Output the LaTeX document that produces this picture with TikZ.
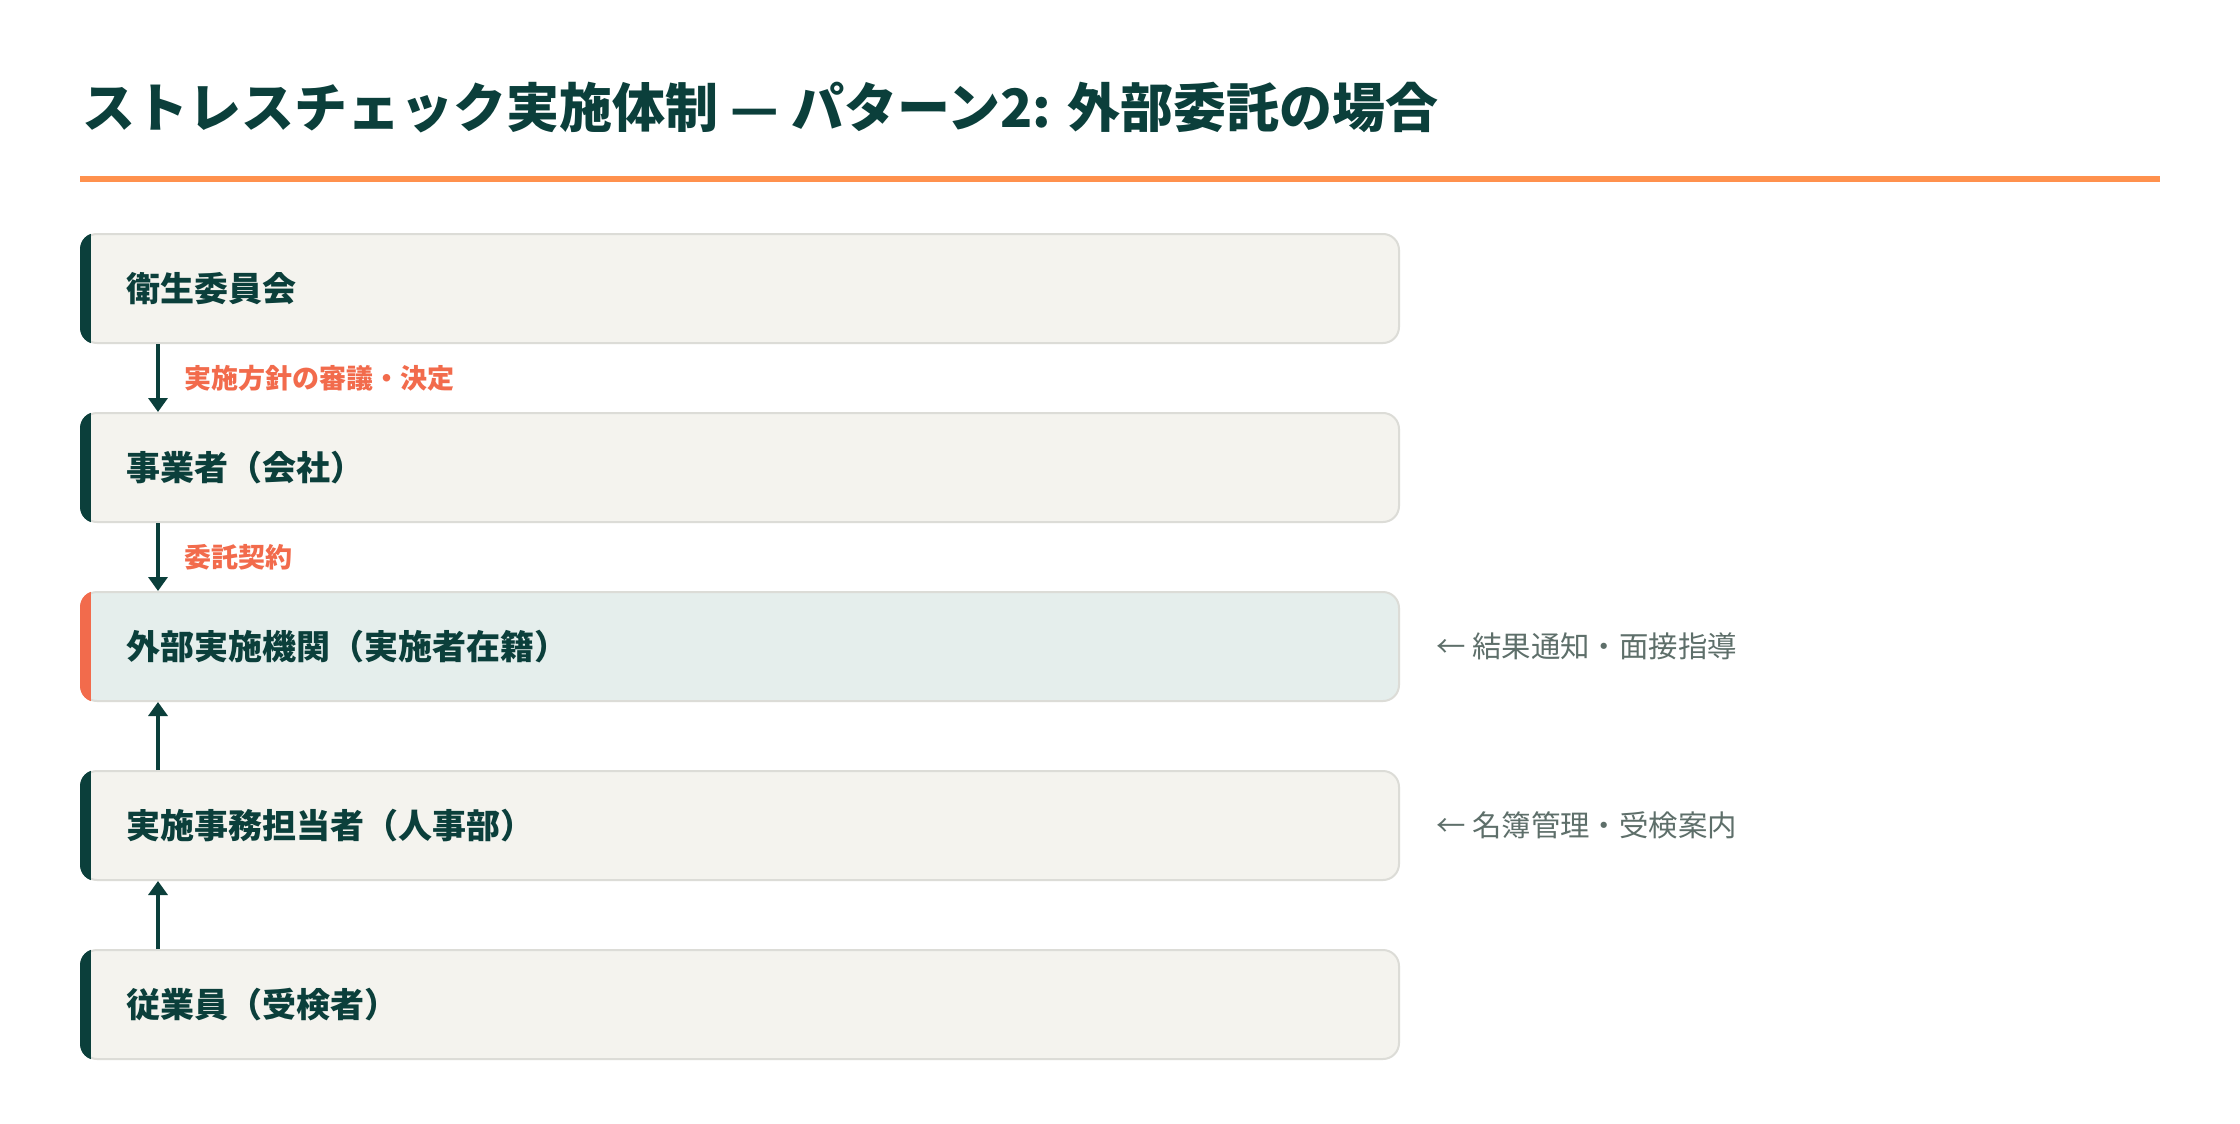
\documentclass[tikz,border=0pt]{standalone}
\usepackage{fontspec}
\setmainfont{Noto Sans CJK JP}
\IfFontExistsTF{Noto Sans CJK JP Black}
  {\newfontfamily\titlefont{Noto Sans CJK JP Black}}
  {\newfontfamily\titlefont{Noto Sans CJK JP}[UprightFont=* Bold]}
\usetikzlibrary{arrows.meta}
\definecolor{dark}{HTML}{0B3F3B}
\definecolor{lineorange}{HTML}{FF914D}
\definecolor{coral}{HTML}{F26B4C}
\definecolor{boxfill}{HTML}{F4F3EE}
\definecolor{hifill}{HTML}{E5EEEC}
\definecolor{boxborder}{HTML}{DCDCD7}
\definecolor{annogray}{HTML}{5E6F6A}
\tikzset{
  stagebox/.style={rectangle, rounded corners=8pt, draw=boxborder, line width=1pt,
    fill=boxfill, minimum width=659pt, minimum height=54.5pt, inner sep=0pt},
  hibox/.style={stagebox, fill=hifill},
  boxtext/.style={anchor=west, inner sep=0pt, text=dark, font=\bfseries\fontsize{17pt}{20pt}\selectfont},
  flowlabel/.style={anchor=west, inner sep=0pt, text=coral, font=\bfseries\fontsize{13.5pt}{16pt}\selectfont},
  annot/.style={anchor=west, inner sep=0pt, text=annogray, font=\fontsize{14.7pt}{18pt}\selectfont},
  flowarrow/.style={draw=dark, line width=1.7pt, -{Triangle[width=9.5pt, length=7pt]}},
}
\begin{document}
\begin{tikzpicture}[x=0.5pt, y=-0.5pt]
\useasboundingbox (0,0) rectangle (2240,1124);
\fill[white] (0,0) rectangle (2240,1124);

% title
\node[anchor=west, inner sep=0pt, text=dark, font=\titlefont\fontsize{26.5pt}{30pt}\selectfont] (title) at (82,108)
  {ストレスチェック実施体制 — パターン2: 外部委託の場合};
\fill[lineorange] (80,176) rectangle (2160,182);

% boxes
\node[stagebox] (b1) at (740,288.5) {};
\node[stagebox] (b2) at (740,467.5) {};
\node[hibox]    (b3) at (740,646.5) {};
\node[stagebox] (b4) at (740,825.5) {};
\node[stagebox] (b5) at (740,1004.5) {};

% accent bars
\foreach \b/\c in {b1/dark, b2/dark, b3/coral, b4/dark, b5/dark}{
  \begin{scope}
    \clip[rounded corners=8pt] (\b.south west) rectangle (\b.north east);
    \fill[\c] ([xshift=-1pt, yshift=-1pt]\b.south west) rectangle ([xshift=5.5pt, yshift=1pt]\b.north west);
  \end{scope}
}

% box texts
\node[boxtext] (t1) at (126,288.5) {衛生委員会};
\node[boxtext] (t2) at (126,467.5) {事業者（会社）};
\node[boxtext] (t3) at (126,646.5) {外部実施機関（実施者在籍）};
\node[boxtext] (t4) at (126,825.5) {実施事務担当者（人事部）};
\node[boxtext] (t5) at (126,1004.5) {従業員（受検者）};

% arrows
\coordinate (ax) at (158,0);
\draw[flowarrow] (b1.south -| ax) -- (b2.north -| ax);
\draw[flowarrow] (b2.south -| ax) -- (b3.north -| ax);
\draw[flowarrow] (b4.north -| ax) -- (b3.south -| ax);
\draw[flowarrow] (b5.north -| ax) -- (b4.south -| ax);

% flow labels
\node[flowlabel] (l1) at (184,378) {実施方針の審議・決定};
\node[flowlabel] (l2) at (184,557) {委託契約};

% annotations
\node[annot] (a1) at (1436,646.5) {← 結果通知・面接指導};
\node[annot] (a2) at (1436,825.5) {← 名簿管理・受検案内};
\end{tikzpicture}
\end{document}
